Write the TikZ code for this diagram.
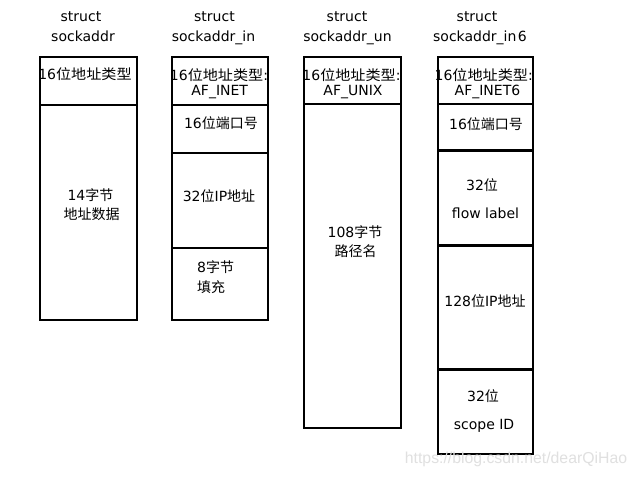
\documentclass[tikz,border=0pt]{standalone}
\usepackage{fontspec}
\setmainfont{DejaVu Sans}
\newfontfamily\cjk{Noto Sans CJK SC}
\newfontfamily\cjkw[FakeStretch=1.08]{Noto Sans CJK SC}
\newfontfamily\wmfont{Liberation Sans}
\begin{document}
\begin{tikzpicture}[x=1pt,y=-1pt,
  font=\fontsize{14}{16}\selectfont,
  cell/.style={draw, line width=1.8pt, inner sep=0pt, anchor=north west},
  thickdiv/.style={line width=2.8pt},
  txt/.style={inner sep=0pt, anchor=base},
  txtl/.style={inner sep=0pt, anchor=base west}]
\useasboundingbox[fill=white] (0,0) rectangle (636,477);

% titles
\node[txt] (t1a) at (81,21) {struct};
\node[txt] (t1b) at (83,41) {sockaddr};
\node[txt] (t2a) at (214.5,21) {struct};
\node[txt] (t2b) at (213.5,41) {sockaddr\_in};
\node[txt] (t3a) at (347,21) {struct};
\node[txt] (t3b) at (347.5,41) {sockaddr\_un};
\node[txt] (t4a) at (477,21) {struct};
\node[txt] (t4b) at (480,41) {sockaddr\_in\kern1.5pt 6};

% column 1: sockaddr
\node[cell, minimum width=97pt, minimum height=48pt] (c1h) at (39,56) {};
\node[cell, minimum width=97pt, minimum height=215pt] (c1d) at (39,104) {};
\node[txt] (l1h) at (85,79) {16{\cjkw 位地址类型}};
\node[txt] (l1d1) at (90.5,200) {14{\cjk 字节}};
\node[txt] (l1d2) at (91.5,219) {\cjk 地址数据};

% column 2: sockaddr_in
\node[cell, minimum width=96pt, minimum height=48pt] (c2h) at (171,56) {};
\node[cell, minimum width=96pt, minimum height=48pt] (c2p) at (171,104) {};
\node[cell, minimum width=96pt, minimum height=95pt] (c2i) at (171,152) {};
\node[cell, minimum width=96pt, minimum height=72pt] (c2z) at (171,247) {};
\node[txt] (l2h1) at (219,80) {16{\cjkw 位地址类型}:};
\node[txt] (l2h2) at (219.7,95.5) {AF\_INET};
\node[txt] (l2p) at (221,128) {16{\cjk 位端口号}};
\node[txt] (l2i) at (219,201) {32{\cjk 位}IP{\cjk 地址}};
\node[txtl] (l2z1) at (197,272) {8{\cjk 字节}};
\node[txtl] (l2z2) at (197,292) {\cjk 填充};

% column 3: sockaddr_un
\node[cell, minimum width=97pt, minimum height=47pt] (c3h) at (303,56) {};
\node[cell, minimum width=97pt, minimum height=324pt] (c3d) at (303,103) {};
\node[txt] (l3h1) at (351.5,80) {16{\cjkw 位地址类型}:};
\node[txt] (l3h2) at (353,95.5) {AF\_UNIX};
\node[txt] (l3d1) at (355,237) {108{\cjk 字节}};
\node[txt] (l3d2) at (355.5,256) {\cjk 路径名};

% column 4: sockaddr_in6
\node[cell, minimum width=95pt, minimum height=47pt] (c4h) at (437,56) {};
\node[cell, minimum width=95pt, minimum height=46pt] (c4p) at (437,103) {};
\node[cell, minimum width=95pt, minimum height=95pt] (c4f) at (437,149) {};
\node[cell, minimum width=95pt, minimum height=124pt] (c4i) at (437,244) {};
\node[cell, minimum width=95pt, minimum height=85pt] (c4s) at (437,368) {};
\draw[thickdiv] (c4p.south west) -- (c4p.south east);
\draw[thickdiv] (c4f.south west) -- (c4f.south east);
\draw[thickdiv] (c4i.south west) -- (c4i.south east);
\node[txt] (l4h1) at (483.7,80) {16{\cjkw 位地址类型}:};
\node[txt] (l4h2) at (487.5,95) {AF\_INET6};
\node[txt] (l4p) at (486,129) {16{\cjk 位端口号}};
\node[txt] (l4f1) at (482,190) {32{\cjk 位}};
\node[txt] (l4f2) at (485.5,218) {flow label};
\node[txt] (l4i) at (485,306.7) {128{\cjk 位}IP{\cjk 地址}};
\node[txt] (l4s1) at (483,401.7) {32{\cjk 位}};
\node[txt] (l4s2) at (484,429) {scope ID};

% watermark
\node[inner sep=0pt, anchor=base, text=black!12, font=\wmfont\fontsize{15.8}{17}\selectfont] (wm) at (516,463) {https://blog.csdn.net/dearQiHao};
\end{tikzpicture}
\end{document}
